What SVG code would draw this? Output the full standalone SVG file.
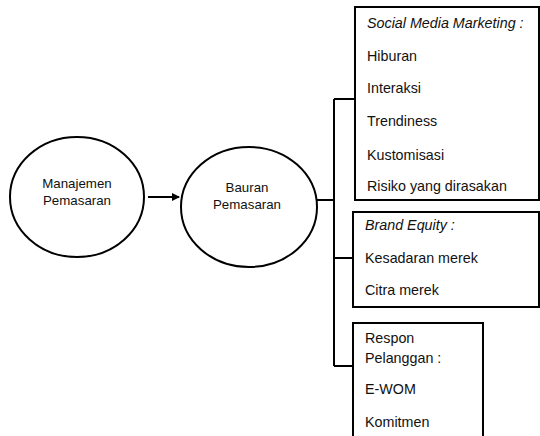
<svg xmlns="http://www.w3.org/2000/svg" width="540" height="436" viewBox="0 0 540 436">
<style>
.shape{fill:#fff;stroke:#000;stroke-width:2}
.t{font-family:"Liberation Sans",Arial,sans-serif;font-size:14.3px;fill:#111}
.e{font-family:"Liberation Sans",Arial,sans-serif;font-size:13.3px;fill:#111;text-anchor:middle}
.i{font-style:italic}
.c{fill:none;stroke:#000;stroke-width:2}
</style>
<defs>
<marker id="arr" markerWidth="8" markerHeight="8" refX="7" refY="4" orient="auto" markerUnits="userSpaceOnUse">
<path d="M0,0 L8,4 L0,8 z" fill="#000"/>
</marker>
</defs>
<rect width="540" height="436" fill="#fff"/>
<g id="connectors">
<line class="c" x1="148" y1="197" x2="179" y2="197" marker-end="url(#arr)"/>
<path class="c" d="M317,200 H334 M334,99 V366 M334,99 H355 M334,258 H353 M334,366 H353"/>
</g>
<g id="node-manajemen">
<ellipse class="shape" cx="77" cy="197" rx="67" ry="60"/>
<text class="e" x="77" y="188">Manajemen</text>
<text class="e" x="77" y="205">Pemasaran</text>
</g>
<g id="node-bauran">
<ellipse class="shape" cx="249" cy="207" rx="68" ry="60"/>
<text class="e" x="247" y="192">Bauran</text>
<text class="e" x="247" y="209">Pemasaran</text>
</g>
<g id="node-smm">
<rect class="shape" x="355" y="7" width="184" height="193"/>
<text class="t i" x="367" y="28">Social Media Marketing :</text>
<text class="t" x="367" y="61">Hiburan</text>
<text class="t" x="367" y="93">Interaksi</text>
<text class="t" x="367" y="126">Trendiness</text>
<text class="t" x="367" y="160">Kustomisasi</text>
<text class="t" x="367" y="191">Risiko yang dirasakan</text>
</g>
<g id="node-brand">
<rect class="shape" x="353" y="212" width="186" height="95"/>
<text class="t i" x="365" y="230">Brand Equity :</text>
<text class="t" x="365" y="263">Kesadaran merek</text>
<text class="t" x="365" y="295">Citra merek</text>
</g>
<g id="node-respon">
<rect class="shape" x="353" y="323" width="130" height="120"/>
<text class="t" x="365" y="343">Respon</text>
<text class="t" x="365" y="363">Pelanggan :</text>
<text class="t" x="365" y="394">E-WOM</text>
<text class="t" x="365" y="427">Komitmen</text>
</g>
</svg>
